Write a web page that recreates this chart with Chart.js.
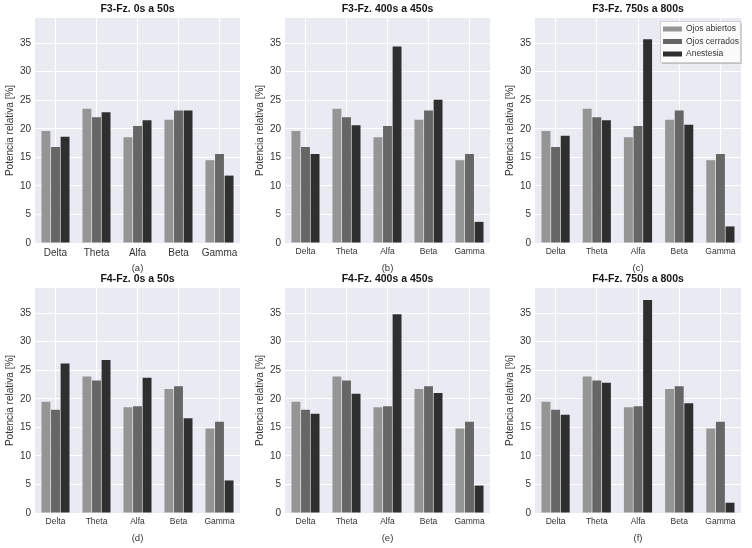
<!DOCTYPE html>
<html>
<head>
<meta charset="utf-8">
<script src="https://cdn.jsdelivr.net/npm/chart.js@4.4.0/dist/chart.umd.min.js"></script>
<style>
  html, body { margin: 0; padding: 0; background: #ffffff; }
  body { width: 752px; height: 548px; position: relative; overflow: hidden; }
  .p { position: absolute; }
</style>
</head>
<body>
<div class="p" style="left:0px;top:0px"><canvas id="c0" width="250" height="275"></canvas></div>
<div class="p" style="left:250px;top:0px"><canvas id="c1" width="250" height="275"></canvas></div>
<div class="p" style="left:500px;top:0px"><canvas id="c2" width="252" height="275"></canvas></div>
<div class="p" style="left:0px;top:270px"><canvas id="c3" width="250" height="275"></canvas></div>
<div class="p" style="left:250px;top:270px"><canvas id="c4" width="250" height="275"></canvas></div>
<div class="p" style="left:500px;top:270px"><canvas id="c5" width="252" height="275"></canvas></div>
<script>
// ---- data ----
const bands = ["Delta", "Theta", "Alfa", "Beta", "Gamma"];
const seriesNames = ["Ojos abiertos", "Ojos cerrados", "Anestesia"];
const panelTitles = ["F3-Fz. 0s a 50s", "F3-Fz. 400s a 450s", "F3-Fz. 750s a 800s",
                     "F4-Fz. 0s a 50s", "F4-Fz. 400s a 450s", "F4-Fz. 750s a 800s"];
const panelLetters = ["(a)", "(b)", "(c)", "(d)", "(e)", "(f)"];
const yTickValues = [0, 5, 10, 15, 20, 25, 30, 35];
const yAxisLabel = "Potencia relativa [%]";

const f3Abiertos = [19.6, 23.5, 18.5, 21.6, 14.5];
const f3Cerrados = [16.8, 22.0, 20.5, 23.2, 15.6];
const f3Anestesia0_50 = [18.6, 22.9, 21.5, 23.2, 11.8];
const f3Anestesia400_450 = [15.6, 20.6, 34.4, 25.1, 3.7];
const f3Anestesia750_800 = [18.8, 21.5, 35.7, 20.7, 2.9];

const f4Abiertos = [19.5, 23.9, 18.5, 21.7, 14.8];
const f4Cerrados = [18.1, 23.2, 18.7, 22.2, 16.0];
const f4Anestesia0_50 = [26.2, 26.8, 23.7, 16.6, 5.7];
const f4Anestesia400_450 = [17.4, 20.9, 34.8, 21.0, 4.8];
const f4Anestesia750_800 = [17.2, 22.8, 37.3, 19.2, 1.8];

// ---- styling ----
const barColors = ["#959595", "#666666", "#2f2f2f"];
const FONT = "'Liberation Sans', Arial, Helvetica, sans-serif";

const bgPlugin = {
  id: 'plotBg',
  beforeDraw(chart) {
    const { ctx, chartArea: a } = chart;
    ctx.save();
    ctx.fillStyle = '#EAEAF2';
    ctx.fillRect(a.left, a.top, a.right - a.left, a.bottom - a.top);
    ctx.restore();
  }
};

// panel title centred over the plot area (as matplotlib does)
const areaTitle = {
  id: 'areaTitle',
  afterDraw(chart, args, opts) {
    if (!opts || !opts.text) return;
    const { ctx, chartArea: a } = chart;
    ctx.save();
    ctx.font = "bold 10.5px " + FONT;
    ctx.fillStyle = '#151515';
    ctx.textAlign = 'center';
    ctx.textBaseline = 'middle';
    ctx.fillText(opts.text, (a.left + a.right) / 2, a.top - 8.5);
    ctx.restore();
  }
};

const innerLegend = {
  id: 'innerLegend',
  afterDraw(chart, args, opts) {
    if (!opts || !opts.show) return;
    const { ctx, chartArea: a } = chart;
    const w = 80, h = 41;
    const x = a.right - w - 1, y = a.top + 3;
    ctx.save();
    ctx.fillStyle = 'rgba(0,0,0,0.18)';
    ctx.fillRect(x + 2, y + 2, w, h);
    ctx.fillStyle = 'rgba(255,255,255,0.94)';
    ctx.strokeStyle = '#cfcfcf';
    ctx.lineWidth = 1;
    ctx.beginPath();
    ctx.rect(x + 0.5, y + 0.5, w, h);
    ctx.fill();
    ctx.stroke();
    ctx.font = "8.5px " + FONT;
    ctx.textBaseline = 'middle';
    ctx.textAlign = 'left';
    chart.data.datasets.forEach((ds, i) => {
      const ry = y + 8 + i * 12.5;
      ctx.fillStyle = ds.backgroundColor;
      ctx.fillRect(x + 3, ry - 2.5, 19, 5);
      ctx.fillStyle = '#333333';
      ctx.fillText(ds.label, x + 26, ry);
    });
    ctx.restore();
  }
};

function makePanel(id, title, letter, s1, s2, s3, xFontSize, showLegend, rightPad) {
  const ctx = document.getElementById(id);
  return new Chart(ctx, {
    type: 'bar',
    data: {
      labels: bands,
      datasets: [
        { label: seriesNames[0], data: s1, backgroundColor: barColors[0] },
        { label: seriesNames[1], data: s2, backgroundColor: barColors[1] },
        { label: seriesNames[2], data: s3, backgroundColor: barColors[2] }
      ]
    },
    options: {
      responsive: false,
      animation: false,
      devicePixelRatio: 1,
      datasets: { bar: { categoryPercentage: 0.7, barPercentage: 0.93, borderWidth: 0 } },
      layout: { padding: { left: 0, right: rightPad, top: 18, bottom: 0 } },
      plugins: {
        legend: { display: false },
        tooltip: { enabled: false },
        title: { display: false },
        areaTitle: { text: title },
        innerLegend: { show: showLegend }
      },
      scales: {
        x: {
          grid: { color: '#ffffff', lineWidth: 1, offset: false, drawTicks: false },
          border: { display: false },
          ticks: { color: '#333333', font: { family: FONT, size: xFontSize }, padding: 4,
                   maxRotation: 0, minRotation: 0, autoSkip: false },
          title: { display: true, text: letter, color: '#333333',
                   font: { family: FONT, size: 9.5 }, padding: { top: 2, bottom: 1 } },
          afterFit(scale) { scale.height = 32; }
        },
        y: {
          min: 0, max: 39.4,
          grid: { color: '#ffffff', lineWidth: 1, drawTicks: false },
          border: { display: false },
          ticks: { color: '#333333', font: { family: FONT, size: 10 }, padding: 4, stepSize: 5 },
          afterBuildTicks(scale) { scale.ticks = yTickValues.map(v => ({ value: v })); },
          title: { display: true, text: yAxisLabel, color: '#333333',
                   font: { family: FONT, size: 10 }, padding: { top: 4, bottom: 0 } },
          afterFit(scale) { scale.width = 35; }
        }
      }
    },
    plugins: [bgPlugin, areaTitle, innerLegend]
  });
}

makePanel('c0', panelTitles[0], panelLetters[0], f3Abiertos, f3Cerrados, f3Anestesia0_50, 10, false, 10);
makePanel('c1', panelTitles[1], panelLetters[1], f3Abiertos, f3Cerrados, f3Anestesia400_450, 8.5, false, 10);
makePanel('c2', panelTitles[2], panelLetters[2], f3Abiertos, f3Cerrados, f3Anestesia750_800, 8.5, true, 11);
makePanel('c3', panelTitles[3], panelLetters[3], f4Abiertos, f4Cerrados, f4Anestesia0_50, 8.5, false, 10);
makePanel('c4', panelTitles[4], panelLetters[4], f4Abiertos, f4Cerrados, f4Anestesia400_450, 8.5, false, 10);
makePanel('c5', panelTitles[5], panelLetters[5], f4Abiertos, f4Cerrados, f4Anestesia750_800, 8.5, false, 11);
</script>
</body>
</html>
